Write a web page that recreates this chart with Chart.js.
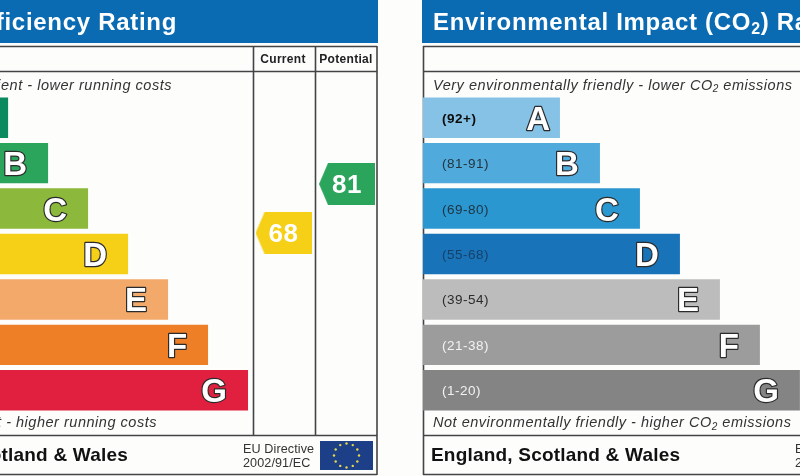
<!DOCTYPE html>
<html>
<head>
<meta charset="utf-8">
<style>
  html, body { margin: 0; padding: 0; background: #fdfdfc; overflow: hidden; }
  canvas { display: block; }
</style>
<script src="https://cdn.jsdelivr.net/npm/chart.js@4/dist/chart.umd.min.js"></script>
</head>
<body>
<canvas id="ratings" width="800" height="476"></canvas>
<script>
var bands = ["A", "B", "C", "D", "E", "F", "G"];
var barLengths = [137, 177, 217, 257, 297, 337, 377];
var co2Ranges = ["(92+)", "(81-91)", "(69-80)", "(55-68)", "(39-54)", "(21-38)", "(1-20)"];
var energyColors = ["#0b8a60", "#2ba55c", "#8cb83b", "#f6cf17", "#f3a96a", "#ee7f27", "#e1203f"];
var co2Colors = ["#85c2e6", "#50aadb", "#2b97d0", "#1973b8", "#bcbcbc", "#9c9c9c", "#848484"];
var co2RangeColors = ["#0c0c0c", "#26343e", "#1e3442", "#17406a", "#2c2c2c", "#f2f2f2", "#f2f2f2"];
var currentRating = 68;
var potentialRating = 81;

var energyStart = -129;
var co2Start = 423;
var FONT = '"Liberation Sans", Arial, sans-serif';

function spans(start) {
  return barLengths.map(function (len) { return [start, start + len]; });
}

// pentagon marker for the current / potential ratings
function arrowMarker(color) {
  var c = document.createElement("canvas");
  c.width = 56;
  c.height = 42;
  var g = c.getContext("2d");
  g.fillStyle = color;
  g.beginPath();
  g.moveTo(0, 21);
  g.lineTo(9, 0);
  g.lineTo(56, 0);
  g.lineTo(56, 42);
  g.lineTo(9, 42);
  g.closePath();
  g.fill();
  return c;
}

function text(ctx, str, x, y, font, color, align, spacing) {
  ctx.font = font;
  ctx.fillStyle = color;
  ctx.textAlign = align || "left";
  ctx.textBaseline = "alphabetic";
  ctx.letterSpacing = (spacing || 0) + "px";
  ctx.fillText(str, x, y);
  ctx.letterSpacing = "0px";
}

// text with a small lowered 2 in CO2
function co2Text(ctx, before, after, x, y, size, font, color, spacing) {
  text(ctx, before, x, y, font + " " + size + "px " + FONT, color, "left", spacing);
  ctx.font = font + " " + size + "px " + FONT;
  ctx.letterSpacing = spacing + "px";
  var w = ctx.measureText(before).width;
  var subFont = font + " " + Math.round(size * 0.68) + "px " + FONT;
  text(ctx, "2", x + w, y + size * 0.2, subFont, color, "left", spacing);
  ctx.font = subFont;
  ctx.letterSpacing = spacing + "px";
  var w2 = ctx.measureText("2").width;
  text(ctx, after, x + w + w2, y, font + " " + size + "px " + FONT, color, "left", spacing);
}

function line(ctx, x1, y1, x2, y2) {
  ctx.beginPath();
  ctx.moveTo(x1, y1);
  ctx.lineTo(x2, y2);
  ctx.stroke();
}

function drawFlag(ctx) {
  ctx.fillStyle = "#1c3f87";
  ctx.fillRect(320, 441, 53, 29);
  ctx.fillStyle = "#e8d94a";
  for (var i = 0; i < 12; i++) {
    var a = i * Math.PI / 6;
    ctx.beginPath();
    ctx.arc(346.5 + Math.sin(a) * 12.5, 455.5 - Math.cos(a) * 12, 1.2, 0, Math.PI * 2);
    ctx.fill();
  }
}

var panelPlugin = {
  id: "panels",
  beforeDatasetsDraw: function (chart) {
    var ctx = chart.ctx;
    ctx.save();
    // header strips
    ctx.fillStyle = "#0a6bb3";
    ctx.fillRect(0, 0, 378, 43);
    ctx.fillRect(422, 0, 378, 43);
    // frames
    ctx.strokeStyle = "#444444";
    ctx.lineWidth = 1.6;
    [46.5, 71.5, 435.5, 474.5].forEach(function (y) {
      line(ctx, 0, y, 377, y);
      line(ctx, 423, y, 800, y);
    });
    line(ctx, 253.5, 46, 253.5, 435);
    line(ctx, 315.5, 46, 315.5, 435);
    line(ctx, 377, 46, 377, 475);
    line(ctx, 423.5, 46, 423.5, 475);
    ctx.restore();
  },
  afterDatasetsDraw: function (chart) {
    var ctx = chart.ctx;
    var sx = chart.scales.x;
    var sy = chart.scales.y;
    ctx.save();

    text(ctx, "Energy Efficiency Rating", 177, 29.5, "bold 24px " + FONT, "#ffffff", "right", 0.7);
    co2Text(ctx, "Environmental Impact (CO", ") Rating", 433, 29.5, 24, "bold", "#ffffff", 0.7);

    text(ctx, "Current", 283, 63, "bold 12px " + FONT, "#222222", "center", 0.3);
    text(ctx, "Potential", 346, 63, "bold 12px " + FONT, "#222222", "center", 0.3);

    text(ctx, "Very energy efficient - lower running costs", 172, 89.5, "italic 14.5px " + FONT, "#333333", "right", 0.52);
    text(ctx, "Not energy efficient - higher running costs", 157, 427, "italic 14.5px " + FONT, "#333333", "right", 0.52);
    co2Text(ctx, "Very environmentally friendly - lower CO", " emissions", 433, 89.5, 14.5, "italic", "#333333", 0.52);
    co2Text(ctx, "Not environmentally friendly - higher CO", " emissions", 433, 427, 14.5, "italic", "#333333", 0.52);

    // band letters and CO2 ranges
    bands.forEach(function (letter, i) {
      var y = sy.getPixelForValue(i);
      var inset = i === 0 ? 10 : 21;
      [energyStart, co2Start].forEach(function (start) {
        var x = sx.getPixelForValue(start + barLengths[i]) - inset;
        if (x < 0) return;
        ctx.font = "bold 33px " + FONT;
        ctx.textAlign = "right";
        ctx.textBaseline = "alphabetic";
        ctx.lineJoin = "round";
        ctx.lineWidth = 2.4;
        ctx.strokeStyle = "#2b2b2b";
        ctx.strokeText(letter, x, y + 12);
        ctx.fillStyle = "#ffffff";
        ctx.fillText(letter, x, y + 12);
      });
      var weight = i === 0 ? "bold " : "";
      text(ctx, co2Ranges[i], 442, y + 5, weight + "13.5px " + FONT, co2RangeColors[i], "left", 0.5);
    });

    // rating numbers on the markers
    [2, 3].forEach(function (idx) {
      var ds = chart.data.datasets[idx];
      var pt = chart.getDatasetMeta(idx).data[0];
      text(ctx, String(ds.data[0].y), pt.x, pt.y + 9.5, "bold 26px " + FONT, "#ffffff", "center", 0.5);
    });

    // footer
    text(ctx, "England, Scotland & Wales", 128, 461, "bold 19px " + FONT, "#111111", "right", 0.2);
    text(ctx, "England, Scotland & Wales", 431, 461, "bold 19px " + FONT, "#111111", "left", 0.2);
    text(ctx, "EU Directive", 243, 453, "12.6px " + FONT, "#333333", "left", 0.1);
    text(ctx, "2002/91/EC", 243, 467, "12.6px " + FONT, "#333333", "left", 0.1);
    text(ctx, "EU Directive", 795, 453, "12.6px " + FONT, "#333333", "left", 0.1);
    text(ctx, "2002/91/EC", 795, 467, "12.6px " + FONT, "#333333", "left", 0.1);
    drawFlag(ctx);
    ctx.restore();
  }
};

var chart = new Chart(document.getElementById("ratings").getContext("2d"), {
  type: "bar",
  data: {
    labels: bands,
    datasets: [
      {
        label: "Energy Efficiency Rating",
        indexAxis: "y",
        data: spans(energyStart),
        backgroundColor: energyColors,
        grouped: false,
        barPercentage: 0.89,
        categoryPercentage: 1,
        xAxisID: "x",
        yAxisID: "y"
      },
      {
        label: "Environmental Impact (CO2) Rating",
        indexAxis: "y",
        data: spans(co2Start),
        backgroundColor: co2Colors,
        grouped: false,
        barPercentage: 0.89,
        categoryPercentage: 1,
        xAxisID: "x",
        yAxisID: "y"
      },
      {
        type: "scatter",
        label: "Current",
        data: [{ x: 283.5, y: currentRating }],
        pointStyle: arrowMarker("#f6cf17"),
        pointRadius: 0.1,
        pointHoverRadius: 0.1,
        pointBorderWidth: 0,
        xAxisID: "x",
        yAxisID: "rating"
      },
      {
        type: "scatter",
        label: "Potential",
        data: [{ x: 347, y: potentialRating }],
        pointStyle: arrowMarker("#2ba55c"),
        pointRadius: 0.1,
        pointHoverRadius: 0.1,
        pointBorderWidth: 0,
        xAxisID: "x",
        yAxisID: "rating"
      }
    ]
  },
  options: {
    responsive: false,
    animation: false,
    events: [],
    layout: { padding: { top: 95, bottom: 63, left: 0, right: 0 } },
    plugins: { legend: { display: false }, tooltip: { enabled: false } },
    scales: {
      x: { type: "linear", axis: "x", min: 0, max: 800, offset: false, display: false },
      y: { type: "category", axis: "y", offset: true, display: false, grid: { display: false } },
      rating: { type: "linear", axis: "y", min: 20.25, max: 104.6, offset: false, display: false }
    }
  },
  plugins: [panelPlugin]
});
</script>
</body>
</html>
